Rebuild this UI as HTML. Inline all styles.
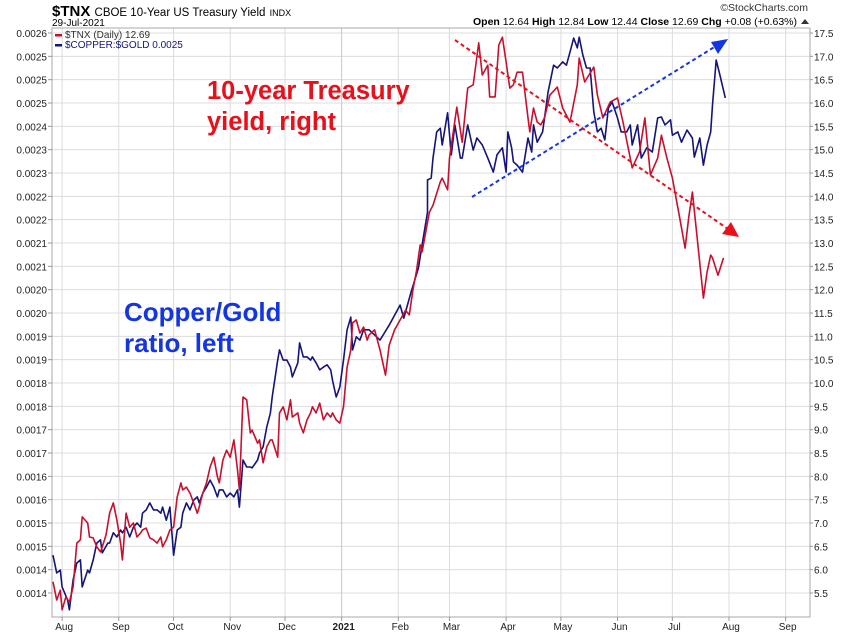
<!DOCTYPE html>
<html><head><meta charset="utf-8"><style>
body{margin:0;background:#fff;width:850px;height:633px;overflow:hidden;font-family:"Liberation Sans",sans-serif}
svg text{font-family:"Liberation Sans",sans-serif}
</style></head><body>
<svg id="c" width="850" height="633" xmlns="http://www.w3.org/2000/svg">
<rect x="0" y="0" width="850" height="633" fill="#fff"/>
<g id="grid"></g>
<rect x="52" y="28" width="758" height="589" fill="none" stroke="#a8a8a8"/>
<g id="yl"></g>
<g id="yr"></g>
<g id="xa"></g>
<g id="series"></g>
<text x="52" y="16" font-size="15" font-weight="bold" fill="#000">$TNX <tspan font-size="11.5" font-weight="normal">CBOE 10-Year US Treasury Yield</tspan> <tspan font-size="9" font-weight="normal">INDX</tspan></text>
<text x="52" y="26" font-size="10" fill="#000">29-Jul-2021</text>
<text x="808" y="11" font-size="10.5" fill="#333" text-anchor="end">©StockCharts.com</text>
<text x="797" y="25" font-size="10.5" fill="#000" text-anchor="end"><tspan font-weight="bold">Open</tspan> 12.64 <tspan font-weight="bold">High</tspan> 12.84 <tspan font-weight="bold">Low</tspan> 12.44 <tspan font-weight="bold">Close</tspan> 12.69 <tspan font-weight="bold">Chg</tspan> +0.08 (+0.63%)</text>
<path d="M801 24 L805 19 L809 24 Z" fill="#333"/>
<g>
<rect x="55" y="34" width="7" height="2.5" fill="#c8102e"/>
<text x="65" y="38" font-size="10" fill="#333">$TNX (Daily) 12.69</text>
<rect x="55" y="44" width="7" height="2.5" fill="#14147a"/>
<text x="65" y="48" font-size="10" fill="#14147a">$COPPER:$GOLD 0.0025</text>
</g>
<text x="207" y="99" font-size="25.5" font-weight="bold" fill="#e8101a">10-year Treasury</text>
<text x="207" y="130" font-size="25.5" font-weight="bold" fill="#e8101a">yield, right</text>
<text x="124" y="321" font-size="26" font-weight="bold" fill="#1436e0">Copper/Gold</text>
<text x="124" y="352" font-size="26" font-weight="bold" fill="#1436e0">ratio, left</text>
<line x1="455" y1="40" x2="728" y2="229" stroke="#e8101a" stroke-width="2" stroke-dasharray="4,3"/>
<path d="M739 237 L722 234 L731 222 Z" fill="#e8101a"/>
<line x1="472" y1="197" x2="716" y2="46" stroke="#1436e0" stroke-width="2" stroke-dasharray="4,3"/>
<path d="M728 39 L718 54 L711 42 Z" fill="#1436e0"/>
</svg>
<script>
const leftTicks=["0.0026","0.0025","0.0025","0.0025","0.0024","0.0023","0.0023","0.0022","0.0022","0.0021","0.0021","0.0020","0.0020","0.0019","0.0019","0.0018","0.0018","0.0017","0.0017","0.0016","0.0016","0.0015","0.0015","0.0014","0.0014"];
const rightTicks=[17.5,17.0,16.5,16.0,15.5,15.0,14.5,14.0,13.5,13.0,12.5,12.0,11.5,11.0,10.5,10.0,9.5,9.0,8.5,8.0,7.5,7.0,6.5,6.0,5.5];
const monthLabels=["Aug","Sep","Oct","Nov","Dec","2021","Feb","Mar","Apr","May","Jun","Jul","Aug","Sep"];
const monthDays=[5,36,66,97,127,158,189,217,248,278,309,339,370,401];
const redDays=[0,2,4,5,7,9,11,13,15,16,19,20,22,24,26,27,29,31,33,35,37,38,40,42,44,46,48,49,51,53,55,57,59,60,62,64,66,68,70,71,73,75,77,79,80,82,84,86,88,90,91,93,95,97,99,101,102,104,106,108,109,112,113,115,117,119,120,123,124,126,128,130,131,134,135,137,139,141,142,144,146,148,150,152,153,155,157,159,161,163,164,166,168,170,172,173,176,179,182,184,187,190,193,195,197,199,201,202,206,208,212,213,216,217,221,224,227,230,233,235,238,239,242,244,246,248,250,252,254,257,258,260,261,263,265,267,269,272,276,279,283,287,288,291,296,298,301,305,309,312,317,321,324,327,331,333,336,339,343,346,348,350,353,356,358,360,361,364,367];
const redVals=[5.74,5.35,5.56,5.14,5.41,5.31,5.63,6.57,6.64,7.13,7.00,6.70,6.68,6.49,6.38,6.49,6.74,7.21,7.43,7.06,6.57,6.21,7.21,6.91,7.00,6.70,6.79,6.85,6.89,6.68,6.64,6.57,6.70,6.49,6.64,6.85,6.91,7.56,7.86,7.71,7.77,7.64,7.43,7.21,7.34,7.64,7.86,8.20,8.41,7.99,7.86,8.35,8.56,8.41,8.78,8.14,7.71,9.70,9.64,8.93,8.99,8.71,8.78,8.29,8.63,8.78,8.78,8.41,9.36,9.49,9.21,9.64,9.27,9.36,9.14,8.93,9.21,9.36,9.49,9.36,9.57,9.21,9.36,9.27,9.36,9.21,9.14,9.49,10.34,10.71,11.29,11.35,11.07,11.20,10.92,11.03,11.14,10.71,10.17,10.81,11.14,11.35,11.56,11.46,11.99,12.42,12.96,12.81,13.66,13.81,14.31,14.39,14.14,14.82,15.91,15.16,16.32,16.39,17.29,16.60,16.81,16.13,16.13,17.24,17.41,16.88,16.32,16.39,16.66,16.66,16.32,15.68,15.38,15.89,15.59,15.53,15.68,16.17,16.34,15.89,15.59,16.39,16.96,16.45,16.77,16.17,15.68,16.02,16.11,15.59,14.61,14.95,15.68,14.46,14.82,15.31,14.82,14.39,13.54,12.89,13.56,14.09,12.96,11.82,12.38,12.74,12.68,12.31,12.68];
const blueDays=[0,2,4,5,8,9,11,13,15,16,19,20,22,24,26,27,30,31,33,35,37,38,40,42,44,46,48,49,51,53,55,57,59,60,62,64,66,68,70,71,73,75,77,79,80,82,84,86,88,90,91,93,95,97,99,101,102,104,106,108,109,112,113,115,117,119,120,123,124,126,128,130,131,134,135,137,139,141,142,144,146,148,150,152,153,155,157,159,161,163,164,166,168,170,173,179,184,190,192,196,200,202,205,205,207,208,210,212,213,216,218,220,223,224,227,230,232,235,238,241,243,246,248,249,251,252,254,257,260,262,263,265,268,271,274,276,279,281,283,285,287,288,290,292,294,296,298,300,302,304,306,309,311,314,316,317,320,322,325,328,331,333,335,338,339,342,344,347,350,351,354,356,358,360,361,363,365,368];
const blueVals=[0.001481,0.001443,0.001449,0.001413,0.001385,0.001364,0.001428,0.001464,0.001471,0.001413,0.001449,0.001443,0.001471,0.001507,0.001514,0.001486,0.001507,0.001507,0.001529,0.001520,0.001535,0.001529,0.001541,0.001520,0.001541,0.001550,0.001541,0.001571,0.001578,0.001593,0.001578,0.001578,0.001571,0.001584,0.001556,0.001584,0.001481,0.001535,0.001541,0.001571,0.001593,0.001578,0.001599,0.001606,0.001593,0.001614,0.001627,0.001642,0.001627,0.001606,0.001621,0.001621,0.001606,0.001614,0.001606,0.001621,0.001584,0.001685,0.001670,0.001670,0.001668,0.001685,0.001700,0.001713,0.001756,0.001786,0.001820,0.001899,0.001921,0.001899,0.001899,0.001884,0.001863,0.001893,0.001936,0.001906,0.001906,0.001899,0.001906,0.001893,0.001878,0.001884,0.001889,0.001878,0.001856,0.001820,0.001841,0.001899,0.001964,0.001991,0.001921,0.001949,0.001942,0.001964,0.001964,0.001942,0.001974,0.002017,0.001989,0.002045,0.002096,0.002146,0.002216,0.002285,0.002289,0.002332,0.002388,0.002396,0.002360,0.002429,0.002339,0.002403,0.002332,0.002332,0.002403,0.002349,0.002375,0.002360,0.002332,0.002302,0.002339,0.002354,0.002302,0.002388,0.002354,0.002324,0.002317,0.002302,0.002375,0.002345,0.002403,0.002366,0.002388,0.002474,0.002531,0.002525,0.002538,0.002531,0.002559,0.002589,0.002568,0.002591,0.002553,0.002525,0.002525,0.002431,0.002388,0.002396,0.002371,0.002439,0.002452,0.002418,0.002388,0.002388,0.002403,0.002360,0.002403,0.002332,0.002354,0.002345,0.002418,0.002420,0.002403,0.002414,0.002381,0.002388,0.002366,0.002392,0.002375,0.002334,0.002375,0.002317,0.002360,0.002388,0.002446,0.002542,0.002510,0.002461];

const NS="http://www.w3.org/2000/svg";
const X0=53,PXD=1.827,YT=33,YB=593;
function xs(d){return X0+d*PXD;}
function yR(v){return YT+(17.5-v)/(17.5-5.5)*(YB-YT);}
function yL(v){return YT+(0.0026-v)/(0.0026-0.0014)*(YB-YT);}
function mk(tag,attrs,parent){const e=document.createElementNS(NS,tag);for(const k in attrs)e.setAttribute(k,attrs[k]);parent.appendChild(e);return e;}
const grid=document.getElementById('grid'),yl=document.getElementById('yl'),yr=document.getElementById('yr'),xa=document.getElementById('xa'),ser=document.getElementById('series');
rightTicks.forEach((v,i)=>{
  const y=yR(v);
  const g=mk('line',{x1:52,x2:810,y1:y,y2:y,stroke:'#dcdcdc','stroke-width':1},grid);
  
  
  const t=mk('text',{x:814,y:y+4,'font-size':10,fill:'#222'},yr);t.textContent=v.toFixed(1);
  
  
  const t2=mk('text',{x:47,y:y+4,'font-size':10,fill:'#222','text-anchor':'end'},yl);t2.textContent=leftTicks[i];
  
  
  mk('line',{x1:48,x2:52,y1:y,y2:y,stroke:'#999'},yl);
  mk('line',{x1:810,x2:813,y1:y,y2:y,stroke:'#999'},yr);
});
monthDays.forEach((d,i)=>{
  const x=xs(d);
  const g=mk('line',{x1:x,x2:x,y1:28,y2:617,stroke:monthLabels[i]==='2021'?'#c8c8c8':'#dcdcdc','stroke-width':1},grid);
  
  
  mk('line',{x1:x,x2:x,y1:617,y2:621,stroke:'#999'},xa);
  const t=mk('text',{x:x+2,y:630,'font-size':10,fill:'#222','text-anchor':'middle','font-weight':monthLabels[i]==='2021'?'bold':'normal'},xa);
  t.textContent=monthLabels[i];
  
  
});
const bp=mk('polyline',{points:blueDays.map((d,i)=>xs(d).toFixed(1)+','+yL(blueVals[i]).toFixed(1)).join(' '),fill:'none',stroke:'#14147a','stroke-width':1.6,'stroke-linejoin':'round'},ser);


const rp=mk('polyline',{points:redDays.map((d,i)=>xs(d).toFixed(1)+','+yR(redVals[i]).toFixed(1)).join(' '),fill:'none',stroke:'#c8102e','stroke-width':1.6,'stroke-linejoin':'round'},ser);


</script>
</body></html>
